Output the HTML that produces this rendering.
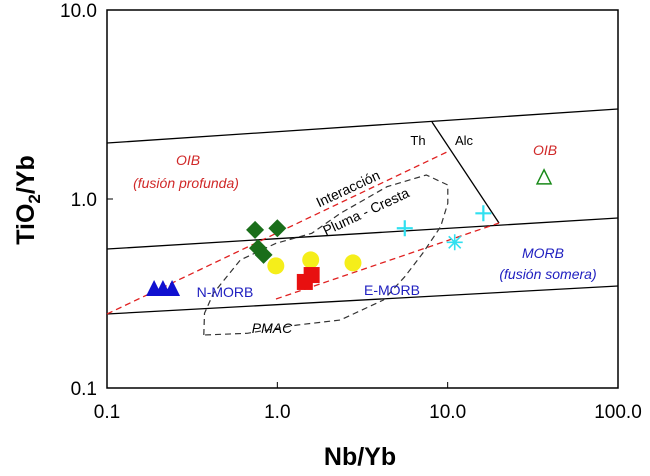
<!DOCTYPE html>
<html><head><meta charset="utf-8"><style>
body{margin:0;background:#fff}
svg text{font-family:"Liberation Sans",sans-serif}
</style></head><body>
<svg width="650" height="471" viewBox="0 0 650 471">
<g id="axes"></g><g id="bounds"></g><g id="labels"></g><g id="marks"></g>
</svg>
<script>
const xTicks=[0.1,1,10,100];
const xTickLabels=["0.1","1.0","10.0","100.0"];
const yTicks=[0.1,1,10];
const yTickLabels=["0.1","1.0","10.0"];
const nmorbX=[0.189,0.213,0.241];
const nmorbY=[0.338,0.338,0.338];
const diamondX=[0.74,1.0,0.77,0.83];
const diamondY=[0.686,0.70,0.55,0.506];
const circleX=[0.98,1.57,2.78];
const circleY=[0.443,0.476,0.459];
const squareX=[1.45,1.59];
const squareY=[0.364,0.396];
const plusX=[5.6,16.2];
const plusY=[0.70,0.84];
const starX=[11.0];
const starY=[0.59];
const oibX=[36.8];
const oibY=[1.31];

const NS="http://www.w3.org/2000/svg";
const L=107,R=618,T=10,B=388;
const sx=v=>L+(Math.log10(v)+1)/3*(R-L);
const sy=v=>B-(Math.log10(v)+1)/2*(B-T);
function mk(tag,attrs,parent,text){const e=document.createElementNS(NS,tag);for(const k in attrs)e.setAttribute(k,attrs[k]);if(text!==undefined)e.textContent=text;document.getElementById(parent).appendChild(e);return e;}

let e=mk('rect',{x:L,y:T,width:R-L,height:B-T,fill:'none',stroke:'#000','stroke-width':1.5},'axes');


xTicks.forEach((v,i)=>{
 let t=mk('line',{x1:sx(v),x2:sx(v),y1:B,y2:B-6,stroke:'#000'},'axes');
 
 
 let l=mk('text',{x:sx(v),y:418,'font-size':19,'text-anchor':'middle'},'axes',xTickLabels[i]);
 
 
});
yTicks.forEach((v,i)=>{
 let t=mk('line',{x1:L,x2:L+6,y1:sy(v),y2:sy(v),stroke:'#000'},'axes');
 
 
 let l=mk('text',{x:97,y:sy(v)+7,'font-size':19,'text-anchor':'end'},'axes',yTickLabels[i]);
 
 
});
e=mk('text',{x:360,y:465,'font-size':25,'font-weight':'bold','text-anchor':'middle'},'axes','Nb/Yb');


e=mk('text',{x:0,y:0,'font-size':25,'font-weight':'bold','text-anchor':'middle',transform:'translate(34,200) rotate(-90)'},'axes');


e.innerHTML='TiO<tspan font-size="17" dy="6">2</tspan><tspan dy="-6">/Yb</tspan>';

function line(x1,y1,x2,y2,attrs,name){let l=mk('line',Object.assign({x1,y1,x2,y2},attrs),'bounds');}
const solid={stroke:'#000','stroke-width':1.3};
const red={stroke:'#e02020','stroke-width':1.3,'stroke-dasharray':'6,4'};
line(107,143,618,109,solid,'upper-boundary');
line(107,249,618,218,solid,'middle-boundary');
line(107,314,618,286,solid,'lower-boundary');
line(432,122,499,223,solid,'th-alc-divider');
line(107,314,449,151,red,'upper-mantle-array');
line(276,299,499,223,red,'lower-mantle-array');
const pm=[[318,1005],[320,940],[345,880],[420,780],[520,730],[620,700],[700,640],[830,560],[940,525],[1000,555],[1000,610],[980,680],[930,760],[880,830],[820,900],[700,960],[580,975],[440,1000],[318,1005]];
e=mk('polyline',{points:pm.map(p=>(p[0]/2.795+90).toFixed(1)+','+(p[1]/3).toFixed(1)).join(' '),fill:'none',stroke:'#333','stroke-width':1.2,'stroke-dasharray':'6,4'},'bounds');



function txt(x,y,s,attrs,name){let t=mk('text',Object.assign({x,y,'font-size':14},attrs),'labels',s);}
txt(188,165,'OIB',{fill:'#d02828','font-style':'italic','text-anchor':'middle'},'oib-deep-label');
txt(186,188,'(fusión profunda)',{fill:'#d02828','font-style':'italic','text-anchor':'middle'},'oib-deep-sub');
txt(418,145,'Th',{'text-anchor':'middle','font-size':13},'th-label');
txt(464,145,'Alc',{'text-anchor':'middle','font-size':13},'alc-label');
txt(545,155,'OIB',{fill:'#d02828','font-style':'italic','text-anchor':'middle'},'oib-label');
txt(543,258,'MORB',{fill:'#2020c0','font-style':'italic','text-anchor':'middle'},'morb-label');
txt(548,279,'(fusión somera)',{fill:'#2020c0','font-style':'italic','text-anchor':'middle'},'morb-sub');
txt(225,297,'N-MORB',{fill:'#2020c0','text-anchor':'middle'},'nmorb-label');
txt(392,295,'E-MORB',{fill:'#2020c0','text-anchor':'middle'},'emorb-label');
txt(272,333,'PMAC',{'font-style':'italic','text-anchor':'middle'},'pmac-label');
txt(0,0,'Interacción',{'text-anchor':'middle',transform:'translate(350,193) rotate(-25)'},'interaction-label');
txt(0,0,'Pluma - Cresta',{'text-anchor':'middle',transform:'translate(368,216) rotate(-25)'},'plume-ridge-label');

nmorbX.forEach((v,i)=>{const x=sx(v),y=sy(nmorbY[i]);
 let m=mk('polygon',{points:`${x-8},${y+8} ${x+8},${y+8} ${x},${y-8}`,fill:'#1010d0'},'marks');
 
 });
diamondX.forEach((v,i)=>{const x=sx(v),y=sy(diamondY[i]);
 let m=mk('polygon',{points:`${x},${y-9} ${x+9},${y} ${x},${y+9} ${x-9},${y}`,fill:'#1a6e1a'},'marks');
 
 });
circleX.forEach((v,i)=>{
 let m=mk('circle',{cx:sx(v),cy:sy(circleY[i]),r:8.5,fill:'#f5ee1a'},'marks');
 
 });
squareX.forEach((v,i)=>{
 let m=mk('rect',{x:sx(v)-8,y:sy(squareY[i])-8,width:16,height:16,fill:'#e81010'},'marks');
 
 });
plusX.forEach((v,i)=>{const x=sx(v),y=sy(plusY[i]);
 let m=mk('path',{d:`M${x-8},${y}H${x+8}M${x},${y-8}V${y+8}`,stroke:'#30e0f0','stroke-width':2.2,fill:'none'},'marks');
 
 });
starX.forEach((v,i)=>{const x=sx(v),y=sy(starY[i]);
 let m=mk('path',{d:`M${x-8},${y}H${x+8}M${x},${y-8}V${y+8}M${x-6},${y-6}L${x+6},${y+6}M${x-6},${y+6}L${x+6},${y-6}`,stroke:'#30e0f0','stroke-width':1.6,fill:'none'},'marks');
 
 });
oibX.forEach((v,i)=>{const x=sx(v),y=sy(oibY[i]);
 let m=mk('polygon',{points:`${x-7},${y+7} ${x+7},${y+7} ${x},${y-7}`,fill:'none',stroke:'#1a8a1a','stroke-width':1.5},'marks');
 
 });
</script>
</body></html>
